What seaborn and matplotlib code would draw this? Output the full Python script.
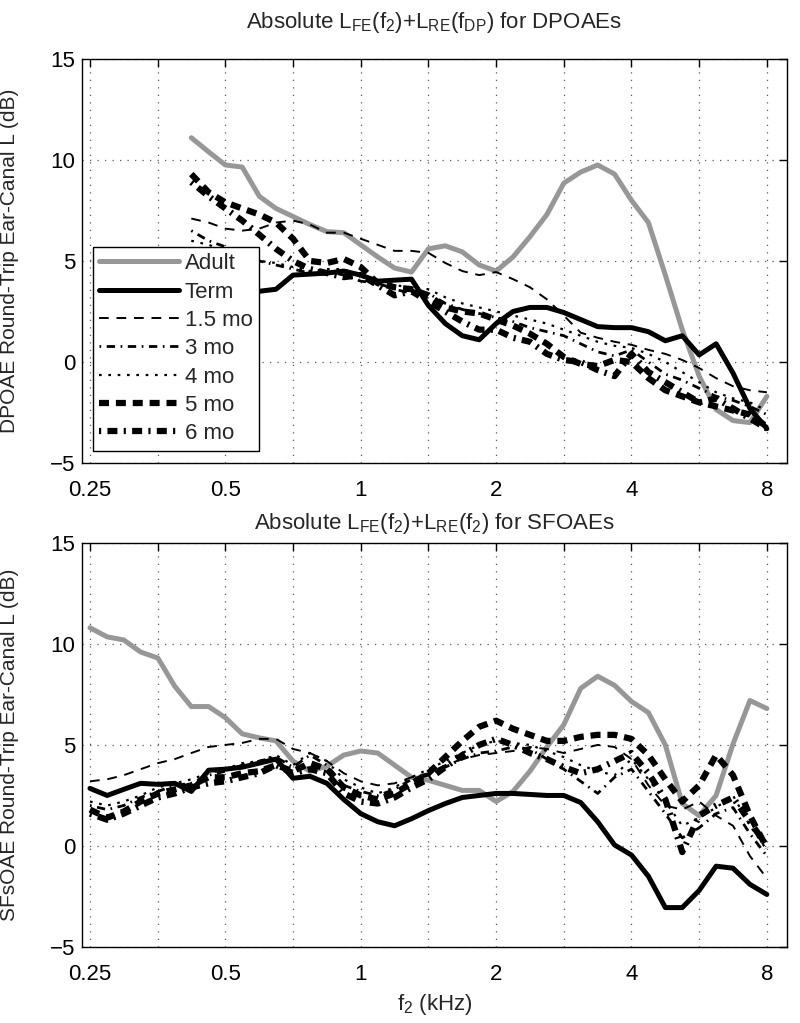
import numpy as np
import matplotlib
matplotlib.use('Agg')
import matplotlib.pyplot as plt
import seaborn as sns

# === data ===
f_dp = [0.420, 0.459, 0.5, 0.545, 0.595, 0.648, 0.707, 0.771, 0.841, 0.917,
        1.0, 1.091, 1.189, 1.297, 1.414, 1.542, 1.682, 1.834, 2.0, 2.181,
        2.378, 2.594, 2.828, 3.084, 3.364, 3.668, 4.0, 4.362, 4.757, 5.187,
        5.657, 6.169, 6.727, 7.336, 8.0]
f_sf = [0.25, 0.273, 0.297, 0.324, 0.354, 0.386] + f_dp

adult_dp = [11.1, 10.4, 9.75, 9.65, 8.2, 7.6, 7.2, 6.8, 6.45, 6.4, 5.8, 5.2, 4.65, 4.45, 5.6,
            5.75, 5.45, 4.8, 4.5, 5.2, 6.2, 7.3, 8.85, 9.4, 9.75, 9.3, 8.0, 6.9, 4.3, 1.6,
            -0.7, -2.35, -2.9, -3.0, -1.7]
term_dp = [3.8, 3.6, 3.4, 3.5, 3.5, 3.6, 4.3, 4.35, 4.4, 4.5, 4.3, 4.0, 4.05, 4.1, 2.8,
           1.9, 1.3, 1.1, 1.9, 2.5, 2.7, 2.7, 2.45, 2.1, 1.75, 1.7, 1.7, 1.5, 1.05, 1.3,
           0.35, 0.9, -0.55, -2.3, -3.3]
mo15_dp = [7.1, 6.9, 6.6, 6.5, 6.6, 6.9, 7.0, 6.8, 6.4, 6.4, 6.1, 5.8, 5.5, 5.5, 5.4,
           4.9, 4.5, 4.3, 4.45, 4.1, 3.7, 3.1, 2.3, 1.45, 1.2, 1.0, 0.85, 0.6, 0.4, 0.1,
           -0.3, -0.8, -1.2, -1.4, -1.5]
mo3_dp = [6.5, 6.0, 5.7, 5.4, 5.0, 4.8, 4.6, 4.4, 4.5, 4.3, 4.0, 3.9, 3.6, 3.4, 3.4,
          2.9, 2.6, 2.4, 2.2, 2.0, 1.7, 1.5, 1.3, 0.9, 0.5, 0.3, 0.6, 0.0, -0.6, -0.9,
          -1.3, -1.7, -1.9, -2.2, -2.6]
mo4_dp = [6.0, 5.8, 5.5, 5.2, 5.0, 4.9, 4.7, 4.5, 4.6, 4.6, 4.2, 4.1, 3.8, 3.7, 3.6,
          3.2, 2.9, 2.7, 2.5, 2.3, 2.1, 1.9, 1.6, 1.3, 1.0, 0.8, 0.7, 0.4, 0.0, -0.5,
          -1.0, -1.5, -1.8, -2.0, -2.4]
mo5_dp = [9.3, 8.4, 7.9, 7.6, 7.3, 6.9, 6.1, 5.0, 4.9, 5.1, 4.7, 3.9, 3.7, 3.6, 3.3,
          2.7, 2.5, 2.4, 2.1, 1.8, 1.4, 0.9, 0.25, -0.1, -0.2, 0.1, 0.0, -0.8, -1.4, -1.7,
          -2.0, -2.2, -2.4, -2.6, -3.2]
mo6_dp = [8.9, 8.2, 7.6, 7.0, 6.3, 5.6, 5.0, 4.6, 4.4, 4.2, 4.3, 3.8, 3.3, 3.5, 3.0,
          2.5, 2.0, 1.6, 1.6, 1.2, 1.0, 0.4, 0.1, 0.0, -0.4, -0.7, 0.4, -0.5, -1.0, -1.5,
          -2.0, -1.8, -2.3, -2.8, -3.3]

adult_sf = [10.8, 10.35, 10.2, 9.6, 9.3, 7.9, 6.9, 6.9, 6.35, 5.55, 5.35, 5.2, 4.2, 3.7,
            3.95, 4.5, 4.7, 4.6, 4.0, 3.4, 3.25, 3.0, 2.75, 2.75, 2.2, 2.7, 3.7, 4.9, 6.0,
            7.8, 8.4, 7.95, 7.15, 6.6, 5.0, 2.1, 1.5, 2.5, 5.05, 7.2, 6.8]
term_sf = [2.85, 2.5, 2.8, 3.1, 3.05, 3.1, 2.7, 3.75, 3.8, 3.9, 4.1, 4.3, 3.35, 3.45,
           3.1, 2.3, 1.6, 1.2, 1.0, 1.35, 1.75, 2.1, 2.4, 2.5, 2.6, 2.6, 2.55, 2.5, 2.5,
           2.15, 1.2, 0.05, -0.45, -1.5, -3.05, -3.05, -2.2, -1.0, -1.1, -1.9, -2.4]
mo15_sf = [3.2, 3.3, 3.5, 3.8, 4.1, 4.3, 4.6, 4.9, 5.0, 5.1, 5.3, 5.3, 4.8, 4.6, 4.2,
           3.6, 3.2, 3.0, 3.1, 3.4, 3.6, 4.0, 4.3, 4.5, 4.6, 4.7, 4.9, 4.8, 4.6, 4.8,
           5.0, 4.9, 4.3, 3.0, 2.0, 1.8, 2.2, 1.5, 1.0, -0.5, -1.6]
mo3_sf = [2.0, 1.8, 2.0, 2.4, 2.7, 3.0, 3.1, 3.5, 3.7, 4.0, 4.2, 4.4, 3.9, 4.5, 4.0,
          3.0, 2.7, 2.5, 2.8, 3.3, 3.5, 3.9, 4.3, 4.6, 4.7, 4.9, 4.8, 4.3, 3.8, 3.2,
          2.6, 3.4, 3.8, 2.7, 1.6, 0.4, 0.9, 1.6, 1.9, 0.6, -0.5]
mo4_sf = [2.2, 2.0, 2.2, 2.5, 2.9, 3.1, 3.3, 3.6, 3.8, 4.1, 4.2, 4.5, 4.0, 4.6, 4.2,
          3.3, 2.9, 2.6, 2.9, 3.4, 3.8, 4.2, 4.6, 5.0, 5.2, 5.1, 5.0, 4.7, 4.4, 4.0,
          3.7, 3.5, 4.3, 3.3, 2.2, 1.0, 1.4, 1.9, 2.5, 1.0, -0.2]
mo5_sf = [1.8, 1.4, 1.7, 2.2, 2.6, 2.8, 3.0, 3.4, 3.4, 3.6, 3.7, 4.0, 3.7, 4.1, 3.8,
          2.9, 2.5, 2.3, 2.6, 3.1, 3.6, 4.4, 5.2, 5.9, 6.2, 5.8, 5.5, 5.2, 5.2, 5.4,
          5.5, 5.5, 5.3, 4.5, 3.3, 2.2, 3.0, 4.5, 3.5, 1.5, -0.1]
mo6_sf = [1.6, 1.3, 1.6, 2.0, 2.4, 2.6, 2.9, 3.1, 3.2, 3.4, 3.6, 4.0, 3.6, 3.8, 3.6,
          2.6, 2.2, 2.1, 2.4, 2.9, 3.3, 3.9, 4.5, 5.0, 5.3, 5.0, 4.6, 4.3, 3.9, 3.6,
          3.8, 4.2, 4.6, 3.6, 2.3, -0.3, 1.5, 2.0, 2.4, 1.2, 0.0]

labels = ['Adult', 'Term', '1.5 mo', '3 mo', '4 mo', '5 mo', '6 mo']
xtick_vals = [0.25, 0.354, 0.5, 0.707, 1, 1.414, 2, 2.828, 4, 5.657, 8]
xtick_text = ['0.25', '', '0.5', '', '1', '', '2', '', '4', '', '8']

# line styles: color, width, dash pattern
styles = [
    dict(color='#979797', lw=3.6, linestyle='-'),
    dict(color='black', lw=3.6, linestyle='-'),
    dict(color='black', lw=1.4, linestyle=(0, (5, 4))),
    dict(color='black', lw=2.0, linestyle=(0, (0.6, 2.0, 3.0, 2.0))),
    dict(color='black', lw=1.6, linestyle=(0, (1.2, 3.0))),
    dict(color='black', lw=4.5, linestyle=(0, (1.6, 1.1))),
    dict(color='black', lw=4.5, linestyle=(0, (0.35, 1.0, 1.6, 1.0))),
]

# === style ===
sns.set_style('white')
plt.rcParams['font.family'] = ['Liberation Sans', 'DejaVu Sans']
plt.rcParams['mathtext.fontset'] = 'custom'
plt.rcParams['mathtext.rm'] = 'Liberation Sans'
plt.rcParams['mathtext.it'] = 'Liberation Sans'
plt.rcParams['mathtext.default'] = 'regular'
fs = 16

fig = plt.figure(figsize=(8, 10.23), dpi=100)
ax1 = fig.add_axes([0.1025, 0.5474, 0.8813, 0.395])
ax2 = fig.add_axes([0.1025, 0.0743, 0.8813, 0.395])

dp_series = [adult_dp, term_dp, mo15_dp, mo3_dp, mo4_dp, mo5_dp, mo6_dp]
sf_series = [adult_sf, term_sf, mo15_sf, mo3_sf, mo4_sf, mo5_sf, mo6_sf]

for ys, lab, st in zip(dp_series, labels, styles):
    sns.lineplot(x=f_dp, y=ys, ax=ax1, label=lab, **st)
for ys, st in zip(sf_series, styles):
    sns.lineplot(x=f_sf, y=ys, ax=ax2, legend=False, **st)

for ax in (ax1, ax2):
    ax.set_xscale('log', base=2)
    ax.set_xlim(0.24, 8.87)
    ax.set_ylim(-5, 15)
    ax.set_xticks(xtick_vals)
    ax.set_xticklabels(xtick_text)
    ax.minorticks_off()
    ax.set_yticks([-5, 0, 5, 10, 15])
    ax.set_yticklabels(['\u22125', '0', '5', '10', '15'])
    ax.tick_params(direction='in', top=True, right=True, length=6, width=1,
                   labelsize=fs, colors='black')
    ax.tick_params(axis='x', pad=12)
    ax.tick_params(axis='y', pad=5)
    ax.grid(True, linestyle=(0, (1, 5)), color='0.35', lw=0.9)
    for sp in ax.spines.values():
        sp.set_visible(True)
        sp.set_color('black')
        sp.set_linewidth(1.0)
    ax.yaxis.set_label_coords(-0.09, 0.5)

ax1.set_ylabel('DPOAE Round-Trip Ear-Canal L (dB)', fontsize=15)
ax2.set_ylabel('SFsOAE Round-Trip Ear-Canal L (dB)', fontsize=15)
ax1.set_title(r'Absolute L$_{FE}$(f$_2$)+L$_{RE}$(f$_{DP}$) for DPOAEs', fontsize=fs, pad=22)
ax2.set_title(r'Absolute L$_{FE}$(f$_2$)+L$_{RE}$(f$_2$) for SFOAEs', fontsize=fs, pad=10)
ax2.set_xlabel(r'f$_2$ (kHz)', fontsize=fs, labelpad=5)

leg = ax1.legend(loc='lower left', bbox_to_anchor=(0.015, 0.03), fontsize=fs,
                 fancybox=False, framealpha=1, edgecolor='black', handlelength=3.6,
                 handletextpad=0.25, labelspacing=0.33, borderpad=0.3, borderaxespad=0)
leg.get_frame().set_linewidth(1.0)

plt.savefig('out.png', dpi=100)
